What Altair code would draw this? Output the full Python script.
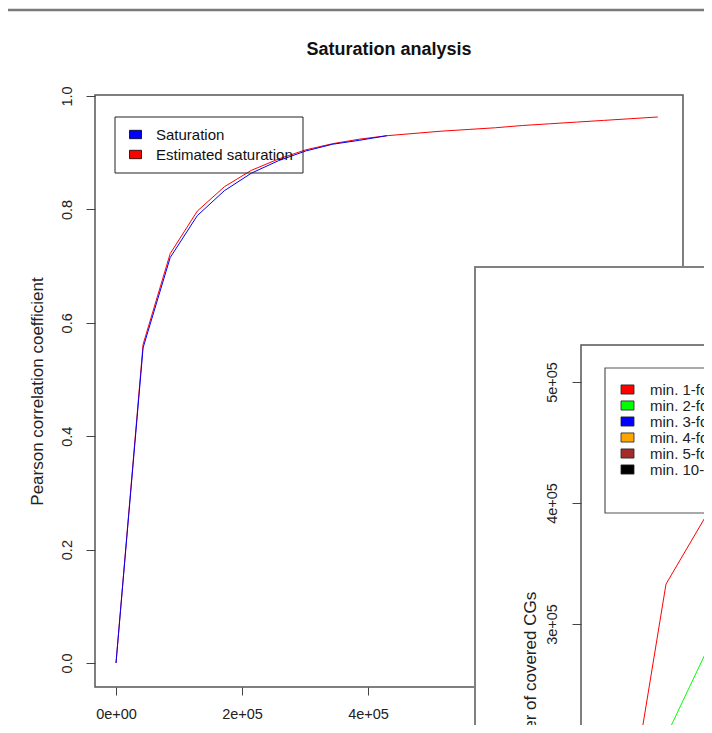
import altair as alt
import pandas as pd

# ---------------- data: main chart ----------------
reads = [0, 43000, 86000, 129000, 172000, 215000, 258000, 301000, 344000, 387000, 430000,
         473000, 516000, 559000, 602000, 645000, 688000, 731000, 774000, 817000, 860000]
saturation = [0.0, 0.556, 0.715, 0.789, 0.833, 0.864, 0.886, 0.903, 0.915, 0.922, 0.930]
estimated = [0.0, 0.562, 0.722, 0.797, 0.840, 0.869, 0.889, 0.905, 0.916, 0.924, 0.930,
             0.934, 0.938, 0.941, 0.944, 0.948, 0.951, 0.954, 0.957, 0.960, 0.963]
main_series = ["Saturation", "Estimated saturation"]
main_colors = ["#0000FF", "#FF0000"]
x_ticks = [0, 200000, 400000, 600000, 800000]
y_ticks = [0.0, 0.2, 0.4, 0.6, 0.8, 1.0]

# ---------------- data: overlapping second chart ----------------
inset_reads = [0, 43000, 86000, 129000]
inset_labels = ["min. 1-fold", "min. 2-fold", "min. 3-fold", "min. 4-fold", "min. 5-fold", "min. 10-fold"]
inset_colors = ["#FF0000", "#00FF00", "#0000FF", "#FFA500", "#A52A2A", "#000000"]
cov_min1 = [0, 333000, 426000, 468000]
cov_min2 = [0, 207000, 322000, 380000]
cov_min3 = [0, 140000, 250000, 318000]
cov_min4 = [0, 100000, 200000, 272000]
cov_min5 = [0, 75000, 160000, 235000]
cov_min10 = [0, 20000, 60000, 110000]
inset_y_ticks = [200000, 300000, 400000, 500000]

FONT = "Liberation Sans"
rect_path = "M-1,-0.7H1V0.7H-1Z"

sat_df = pd.DataFrame({"reads": reads[:len(saturation)], "value": saturation})
est_df = pd.DataFrame({"reads": reads, "value": estimated})
legend_df = pd.DataFrame({"reads": [0, 0], "value": [0, 0], "series": main_series})

cov_lists = [cov_min1, cov_min2, cov_min3, cov_min4, cov_min5, cov_min10]
inset_leg_df = pd.DataFrame({"ireads": [0] * 6, "covered": [0] * 6, "coverage": inset_labels})

dummy = pd.DataFrame({"k": [0]})

# ---------------- main chart ----------------
x_main = alt.X("reads:Q",
               scale=alt.Scale(domain=[-33333, 900000], nice=False, zero=False),
               axis=alt.Axis(values=x_ticks, domain=False, grid=False, tickSize=8,
                             labelPadding=12, title=None, zindex=0,
                             labelExpr="datum.value == 0 ? '0e+00' : format(datum.value/100000,'d') + 'e+05'"))
y_main = alt.Y("value:Q",
               scale=alt.Scale(domain=[-0.0423, 1.0018], nice=False, zero=False),
               axis=alt.Axis(values=y_ticks, format=".1f", domain=False, grid=False, tickSize=9,
                             labelPadding=12, labelAngle=270, labelAlign="center",
                             labelBaseline="bottom", title="Pearson correlation coefficient",
                             titleAngle=270, titleX=-58, titleY=296, titleAlign="center",
                             titleBaseline="middle", zindex=0))
color_main = alt.Color("series:N",
                       scale=alt.Scale(domain=main_series, range=main_colors),
                       legend=alt.Legend(title=None, orient="none", legendX=33, legendY=32,
                                         symbolType=rect_path, symbolSize=144,
                                         symbolStrokeColor="black", symbolStrokeWidth=0.8,
                                         symbolOpacity=1, labelFontSize=15, labelOffset=13,
                                         rowPadding=4, padding=0, labelColor="#111"))

est_line = alt.Chart(est_df).mark_line(strokeWidth=1, color=main_colors[1]).encode(x=x_main, y=y_main)
sat_line = alt.Chart(sat_df).mark_line(strokeWidth=1, color=main_colors[0]).encode(x=x_main, y=y_main)
main_leg = alt.Chart(legend_df).mark_square(opacity=0).encode(x=x_main, y=y_main, color=color_main)
main = alt.layer(est_line, sat_line, main_leg)

# ---------------- inset chart ----------------
x_in = alt.X("ireads:Q", scale=alt.Scale(domain=[0, 129000], range=[505, 703], nice=False, zero=False),
             axis=None)
y_in = alt.Y("covered:Q",
             scale=alt.Scale(domain=[0, 600000], range=[892, 166], nice=False, zero=False),
             axis=alt.Axis(orient="left", offset=-486, values=inset_y_ticks, domain=False, grid=False,
                           tickSize=9, labelPadding=13, labelAngle=270, labelAlign="center",
                           labelBaseline="bottom",
                           labelExpr="format(datum.value/100000,'d') + 'e+05'",
                           title="Number of covered CGs", titleAngle=270, titleX=-51, titleY=588,
                           titleAlign="center", titleBaseline="middle", zindex=1))
color_in = alt.Color("coverage:N", scale=alt.Scale(domain=inset_labels, range=inset_colors),
                     legend=alt.Legend(title=None, orient="none", legendX=525, legendY=287,
                                       symbolType=rect_path, symbolSize=169,
                                       symbolStrokeColor="#222", symbolStrokeWidth=0.8,
                                       symbolOpacity=1, labelFontSize=15, labelOffset=15,
                                       rowPadding=0, padding=0, labelColor="#222"))
inset_layers = []
for lab, vals, col in zip(inset_labels, cov_lists, inset_colors):
    df = pd.DataFrame({"ireads": inset_reads, "covered": vals})
    inset_layers.append(alt.Chart(df).mark_line(strokeWidth=1, color=col).encode(x=x_in, y=y_in))
inset_leg = alt.Chart(inset_leg_df).mark_square(opacity=0).encode(x=x_in, y=y_in, color=color_in)
inset = alt.layer(*inset_layers, inset_leg)

# ---------------- decorations ----------------
top_line = alt.Chart(dummy).mark_rule(color="#7a7a7a", strokeWidth=2.5).encode(
    x=alt.value(-87), x2=alt.value(609), y=alt.value(-85))
title = alt.Chart(dummy).mark_text(text="Saturation analysis", font=FONT, fontSize=18,
                                   fontWeight="bold", align="center", baseline="middle",
                                   color="#111").encode(x=alt.value(294), y=alt.value(-45))
main_leg_box = alt.Chart(dummy).mark_rect(fill=None, stroke="#222", strokeWidth=1).encode(
    x=alt.value(20), x2=alt.value(208), y=alt.value(22), y2=alt.value(78))
inset_window = alt.Chart(dummy).mark_rect(fill="white", stroke="#808080", strokeWidth=2).encode(
    x=alt.value(380), x2=alt.value(640), y=alt.value(172), y2=alt.value(660))
inset_plot_box = alt.Chart(dummy).mark_rect(fill=None, stroke="#555", strokeWidth=1.5).encode(
    x=alt.value(486), x2=alt.value(640), y=alt.value(250), y2=alt.value(660))
inset_leg_box = alt.Chart(dummy).mark_rect(fill="white", stroke="#555", strokeWidth=1.2).encode(
    x=alt.value(510), x2=alt.value(640), y=alt.value(273), y2=alt.value(418))

chart = alt.layer(
    top_line, title, main, main_leg_box, inset_window, inset_plot_box, inset, inset_leg_box
).resolve_scale(
    x="independent", y="independent", color="independent"
).properties(
    width=588, height=592,
    padding={"left": 87, "top": 87, "right": 21, "bottom": 38},
    autosize=alt.AutoSizeParams(type="none"),
).configure_view(
    stroke="#555", strokeWidth=1.5
).configure_axis(
    labelFont=FONT, titleFont=FONT, labelFontSize=14.5, titleFontSize=17,
    labelColor="#222", titleColor="#222", tickColor="#444", titleFontWeight="normal"
).configure_legend(
    labelFont=FONT
)

chart.save("out.html", embed_options={"renderer": "svg", "actions": False})
